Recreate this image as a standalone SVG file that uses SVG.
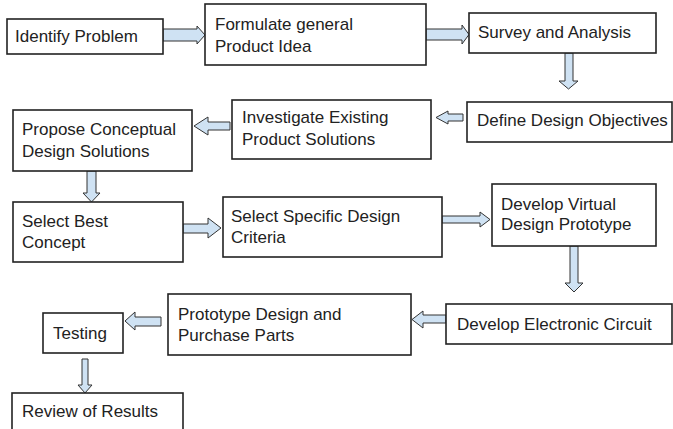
<svg xmlns="http://www.w3.org/2000/svg" width="673" height="429" viewBox="0 0 673 429">
<style>
.box{fill:#fff;stroke:#222;stroke-width:1.6}
.t{font-family:"Liberation Sans",Arial,sans-serif;font-size:17px;fill:#222}
.ar{fill:#cfe2f3;stroke:#333;stroke-width:1;stroke-linejoin:miter}
</style>
<rect width="673" height="429" fill="#fff"/>
<g id="connectors">
<polygon class="ar" points="163,29 197,29 197,26 205,35 197,44 197,41 163,41"/>
<polygon class="ar" points="426,29 462,29 462,25 469,34.5 462,44 462,40 426,40"/>
<polygon class="ar" points="565,53 573,53 573,81 578,81 568.5,89 559,81 565,81"/>
<polygon class="ar" points="463,114 448,114 448,111 436,117.5 448,124 448,121 463,121"/>
<polygon class="ar" points="230,122 208,122 208,117 194,126 208,135 208,130 230,130"/>
<polygon class="ar" points="87,171 96,171 96,193 100,193 91.5,202 83,193 87,193"/>
<polygon class="ar" points="183,224 208,224 208,218 221,228 208,238 208,233 183,233"/>
<polygon class="ar" points="442,216 480,216 480,212 490,219.5 480,227 480,223 442,223"/>
<polygon class="ar" points="570,246 578,246 578,283 583,283 574,292 565,283 570,283"/>
<polygon class="ar" points="446,315 423,315 423,311 412,319.5 423,328 423,323 446,323"/>
<polygon class="ar" points="161,317 135,317 135,312 125,321 135,330 135,326 161,326"/>
<polygon class="ar" points="82,359 88,359 88,385 92,385 85,393 78,385 82,385"/>
</g>
<g id="identify"><rect class="box" x="7" y="19" width="156" height="35"/><text class="t" x="15" y="42">Identify Problem</text></g>
<g id="formulate"><rect class="box" x="205" y="4" width="221" height="61"/><text class="t" x="215" y="29.5">Formulate general</text><text class="t" x="215" y="51.5">Product Idea</text></g>
<g id="survey"><rect class="box" x="469" y="13" width="187" height="40"/><text class="t" x="478" y="38">Survey and Analysis</text></g>
<g id="define"><rect class="box" x="467" y="102" width="205" height="40"/><text class="t" x="477" y="126">Define Design Objectives</text></g>
<g id="investigate"><rect class="box" x="232" y="100" width="199" height="59"/><text class="t" x="242" y="123">Investigate Existing</text><text class="t" x="242" y="144.5">Product Solutions</text></g>
<g id="propose"><rect class="box" x="13" y="110" width="179" height="61"/><text class="t" x="22" y="135">Propose Conceptual</text><text class="t" x="22" y="156.5">Design Solutions</text></g>
<g id="selectbest"><rect class="box" x="13" y="202" width="170" height="60"/><text class="t" x="22" y="227">Select Best</text><text class="t" x="22" y="248">Concept</text></g>
<g id="selectspecific"><rect class="box" x="223" y="197" width="219" height="60"/><text class="t" x="231" y="222">Select Specific Design</text><text class="t" x="231" y="243">Criteria</text></g>
<g id="virtual"><rect class="box" x="492" y="184" width="164" height="62"/><text class="t" x="501" y="209.5">Develop Virtual</text><text class="t" x="501" y="230">Design Prototype</text></g>
<g id="electronic"><rect class="box" x="446" y="304" width="226" height="40"/><text class="t" x="457" y="330">Develop Electronic Circuit</text></g>
<g id="prototype"><rect class="box" x="168" y="294" width="243" height="61"/><text class="t" x="178" y="320">Prototype Design and</text><text class="t" x="178" y="340.5">Purchase Parts</text></g>
<g id="testing"><rect class="box" x="43" y="313" width="80" height="40"/><text class="t" x="53" y="339">Testing</text></g>
<g id="review"><rect class="box" x="12" y="393" width="171" height="45"/><text class="t" x="22" y="417">Review of Results</text></g>
</svg>
